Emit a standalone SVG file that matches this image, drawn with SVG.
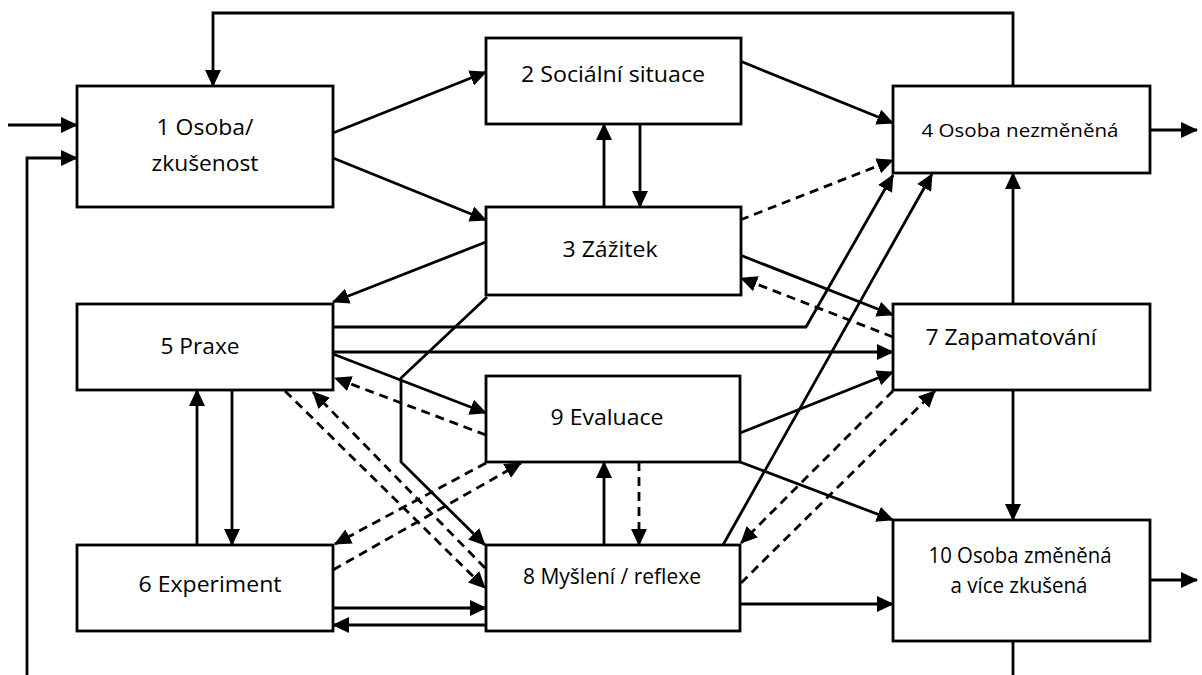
<svg xmlns="http://www.w3.org/2000/svg" width="1202" height="675" viewBox="0 0 1202 675">
<style>
.box{fill:#fff;stroke:#000;stroke-width:2.8}
.c{fill:none;stroke:#000;stroke-width:2.8;marker-end:url(#a)}
.d{stroke-dasharray:9 6}
text{font-family:"Open Sans","Liberation Sans",sans-serif;font-size:21px;fill:#000;text-anchor:middle}
</style>
<defs>
<marker id="a" markerWidth="17" markerHeight="16" refX="16" refY="8" orient="auto" markerUnits="userSpaceOnUse">
<path d="M0,0 L17,8 L0,16 z" fill="#000"/>
</marker>
</defs>
<rect width="1202" height="675" fill="#fff"/>
<g id="connectors">
<path class="c" d="M1013,86 V13 H213 V86"/>
<path class="c" d="M8,125 H77"/>
<path class="c" d="M1013,641 V678 H27 V158 H77"/>
<path class="c" d="M333,133 L486,72"/>
<path class="c" d="M333,158 L486,220"/>
<path class="c" d="M486,242 L333,302"/>
<path class="c" d="M740,61 L893,123"/>
<path class="c" d="M604,207 V124"/>
<path class="c" d="M640,124 V207"/>
<path class="c d" d="M740,220 L893,160"/>
<path class="c" d="M740,255 L893,315"/>
<path class="c d" d="M893,337 L741,278"/>
<path class="c" d="M333,327 H806 L893,175"/>
<path class="c" d="M333,352 H893"/>
<path class="c" d="M333,354 L486,413"/>
<path class="c d" d="M486,435 L335,378"/>
<path class="c" d="M487,297 L401,378 V462 L485,545"/>
<path class="c d" d="M285,391 L485,588"/>
<path class="c d" d="M485,568 L313,392"/>
<path class="c d" d="M333,570 L521,463"/>
<path class="c d" d="M486,463 L335,544"/>
<path class="c" d="M197,545 V390"/>
<path class="c" d="M232,390 V545"/>
<path class="c" d="M333,608 H486"/>
<path class="c" d="M486,625 H333"/>
<path class="c" d="M604,545 V462"/>
<path class="c d" d="M639,462 V545"/>
<path class="c" d="M740,433 L893,372"/>
<path class="c" d="M740,462 L893,520"/>
<path class="c" d="M1013,304 V173"/>
<path class="c" d="M1013,390 V520"/>
<path class="c d" d="M893,391 L741,543"/>
<path class="c d" d="M741,583 L935,391"/>
<path class="c" d="M723,545 L932,174"/>
<path class="c" d="M740,604 H893"/>
<path class="c" d="M1150,130 H1197"/>
<path class="c" d="M1150,580 H1197"/>
</g>
<g id="n1"><rect class="box" x="77" y="86" width="256" height="121"/>
<text x="205" y="135" textLength="97" lengthAdjust="spacingAndGlyphs">1 Osoba/</text>
<text x="205" y="171" textLength="107" lengthAdjust="spacingAndGlyphs">zkušenost</text></g>
<g id="n2"><rect class="box" x="486" y="38" width="255" height="86"/>
<text x="613" y="82" textLength="184" lengthAdjust="spacingAndGlyphs">2 Sociální situace</text></g>
<g id="n3"><rect class="box" x="486" y="207" width="255" height="88"/>
<text x="610" y="257" textLength="95" lengthAdjust="spacingAndGlyphs">3 Zážitek</text></g>
<g id="n4"><rect class="box" x="893" y="86" width="257" height="87"/>
<text x="1020" y="137" style="font-size:19px" textLength="197" lengthAdjust="spacingAndGlyphs">4 Osoba nezměněná</text></g>
<g id="n5"><rect class="box" x="77" y="304" width="256" height="86"/>
<text x="200" y="354" textLength="79" lengthAdjust="spacingAndGlyphs">5 Praxe</text></g>
<g id="n6"><rect class="box" x="77" y="545" width="256" height="86"/>
<text x="210" y="592" textLength="143" lengthAdjust="spacingAndGlyphs">6 Experiment</text></g>
<g id="n7"><rect class="box" x="893" y="304" width="257" height="86"/>
<text x="1011" y="345" textLength="171" lengthAdjust="spacingAndGlyphs">7 Zapamatování</text></g>
<g id="n8"><rect class="box" x="486" y="545" width="254" height="86"/>
<text x="612" y="584" textLength="178" lengthAdjust="spacingAndGlyphs">8 Myšlení / reflexe</text></g>
<g id="n9"><rect class="box" x="486" y="376" width="254" height="86"/>
<text x="607" y="425" textLength="113" lengthAdjust="spacingAndGlyphs">9 Evaluace</text></g>
<g id="n10"><rect class="box" x="893" y="520" width="257" height="121"/>
<text x="1020" y="563" textLength="183" lengthAdjust="spacingAndGlyphs">10 Osoba změněná</text>
<text x="1019" y="593" textLength="137" lengthAdjust="spacingAndGlyphs">a více zkušená</text></g>
</svg>
